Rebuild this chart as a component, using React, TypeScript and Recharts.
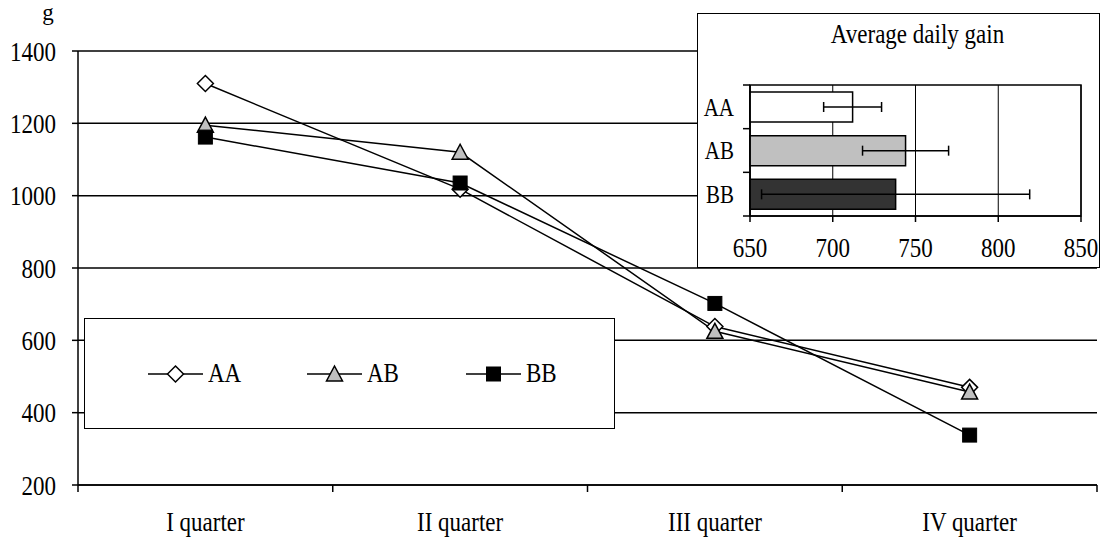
import React from 'react';
import {
  LineChart,
  Line,
  XAxis,
  YAxis,
  CartesianGrid,
  Legend,
  BarChart,
  Bar,
  Cell,
  ErrorBar,
  ReferenceArea,
} from 'recharts';

// ---------- data ----------
const quarters = ['I quarter', 'II quarter', 'III quarter', 'IV quarter'];
const aaValues = [1310, 1018, 638, 470];
const abValues = [1195, 1120, 625, 457];
const bbValues = [1162, 1035, 702, 338];
const yTicks = [200, 400, 600, 800, 1000, 1200, 1400];

const genotypes = ['AA', 'AB', 'BB'];
const gainValues = [712, 744, 738];
const gainErrors = [17.5, 26, 81];
const gainColors = ['#ffffff', '#c0c0c0', '#333333'];
const gainTicks = [650, 700, 750, 800, 850];

const lineData = quarters.map((q, i) => ({ q, AA: aaValues[i], AB: abValues[i], BB: bbValues[i] }));
const barData = genotypes.map((g, i) => ({ g, v: gainValues[i], e: gainErrors[i] }));

const FONT = '"Liberation Serif", "Times New Roman", serif';
const STRETCH = 1.2;

// ---------- markers ----------
const Diamond = ({ cx, cy }: { cx: number; cy: number }) => (
  <polygon
    points={`${cx},${cy - 8} ${cx + 8},${cy} ${cx},${cy + 8} ${cx - 8},${cy}`}
    fill="#ffffff"
    stroke="#000"
    strokeWidth={1.5}
  />
);
const Triangle = ({ cx, cy }: { cx: number; cy: number }) => (
  <polygon
    points={`${cx},${cy - 8} ${cx + 8},${cy + 7} ${cx - 8},${cy + 7}`}
    fill="#c0c0c0"
    stroke="#000"
    strokeWidth={1.5}
  />
);
const Square = ({ cx, cy }: { cx: number; cy: number }) => (
  <rect x={cx - 7} y={cy - 7} width={14} height={14} fill="#000" stroke="#000" strokeWidth={1} />
);

const SERIES = [
  { key: 'AA', Marker: Diamond },
  { key: 'AB', Marker: Triangle },
  { key: 'BB', Marker: Square },
];

// ---------- text helper ----------
const SText = ({
  x,
  y,
  anchor,
  dy,
  size,
  children,
}: {
  x: number;
  y: number;
  anchor: 'start' | 'middle' | 'end';
  dy: string;
  size: number;
  children: any;
}) => (
  <text
    transform={`translate(${x},${y}) scale(1,${STRETCH})`}
    x={0}
    y={0}
    dy={dy}
    textAnchor={anchor}
    fontSize={size}
    fontFamily={FONT}
    fill="#000"
  >
    {children}
  </text>
);

// ---------- ticks ----------
const QuarterTick = (props: any) => {
  const { x, y, payload, index } = props;
  const off = payload && typeof payload.offset === 'number' ? payload.offset : 0;
  const last = index === quarters.length - 1;
  return (
    <g>
      <line x1={x - off} y1={y} x2={x - off} y2={y + 7} stroke="#000" strokeWidth={1.5} />
      {last && <line x1={x + off} y1={y} x2={x + off} y2={y + 7} stroke="#000" strokeWidth={1.5} />}
      <SText x={x} y={y + 26} anchor="middle" dy="0.71em" size={23}>
        {payload.value}
      </SText>
    </g>
  );
};

const ValueTickLeft = (props: any) => {
  const { x, y, payload } = props;
  return (
    <SText x={x} y={y} anchor="end" dy="0.355em" size={23}>
      {payload.value}
    </SText>
  );
};

const ValueTickBottom = (props: any) => {
  const { x, y, payload } = props;
  return (
    <SText x={x} y={y} anchor="middle" dy="0.71em" size={23}>
      {payload.value}
    </SText>
  );
};

const GenoTick = (props: any) => {
  const { x, y, payload, index } = props;
  const off = payload && typeof payload.offset === 'number' ? payload.offset : 0;
  const last = index === genotypes.length - 1;
  return (
    <g>
      <line x1={x - 7} y1={y - off} x2={x} y2={y - off} stroke="#000" strokeWidth={1.5} />
      {last && <line x1={x - 7} y1={y + off} x2={x} y2={y + off} stroke="#000" strokeWidth={1.5} />}
      <SText x={x - 16} y={y} anchor="end" dy="0.355em" size={21}>
        {payload.value}
      </SText>
    </g>
  );
};

const stretchSpan: React.CSSProperties = {
  display: 'inline-block',
  transform: `scaleY(${STRETCH})`,
};

// ---------- legend ----------
const LegendContent = () => (
  <div
    style={{
      display: 'flex',
      alignItems: 'center',
      height: '100%',
      paddingLeft: 63,
      boxSizing: 'border-box',
      fontFamily: FONT,
      fontSize: 23,
      color: '#000',
    }}
  >
    {SERIES.map(({ key, Marker }) => (
      <div key={key} style={{ display: 'flex', alignItems: 'center', width: 159, flex: 'none' }}>
        <svg width={55} height={20} style={{ display: 'block' }}>
          <line x1={0} y1={10} x2={55} y2={10} stroke="#000" strokeWidth={1.5} />
          <Marker cx={27.5} cy={10} />
        </svg>
        <span style={{ ...stretchSpan, marginLeft: 5, lineHeight: '26px' }}>{key}</span>
      </div>
    ))}
  </div>
);

export default function App() {
  return (
    <div
      style={{
        position: 'absolute',
        left: 0,
        top: 0,
        width: 1102,
        height: 538,
        background: '#fff',
        fontFamily: FONT,
        overflow: 'hidden',
      }}
    >
      <LineChart width={1102} height={538} data={lineData} margin={{ top: 51, right: 5, bottom: 0, left: 0 }}>
        <CartesianGrid vertical={false} stroke="#000" strokeWidth={1.5} />
        <XAxis
          dataKey="q"
          scale="band"
          interval={0}
          tickSize={0}
          tickMargin={0}
          height={53}
          axisLine={{ stroke: '#000', strokeWidth: 1.5 }}
          tickLine={false}
          tick={<QuarterTick />}
        />
        <YAxis
          domain={[200, 1400]}
          ticks={yTicks}
          width={78}
          interval={0}
          tickSize={6}
          tickMargin={16}
          axisLine={{ stroke: '#000', strokeWidth: 1.5 }}
          tickLine={{ stroke: '#000', strokeWidth: 1.5 }}
          tick={<ValueTickLeft />}
        />
        <YAxis
          yAxisId="r"
          orientation="right"
          width={0}
          domain={[200, 1400]}
          ticks={yTicks}
          tick={false}
          tickLine={false}
          axisLine={{ stroke: '#000', strokeWidth: 1.5 }}
        />
        <Legend
          layout="vertical"
          align="center"
          verticalAlign="middle"
          content={<LegendContent />}
          wrapperStyle={{
            left: 84,
            top: 318,
            width: 531,
            height: 111,
            border: '1.5px solid #000',
            background: '#fff',
            boxSizing: 'border-box',
          }}
        />
        {SERIES.map(({ key, Marker }) => (
          <Line
            key={key}
            dataKey={key}
            stroke="#000"
            strokeWidth={1.5}
            isAnimationActive={false}
            legendType="none"
            dot={(p: any) => <Marker key={`${key}-${p.index}`} cx={p.cx} cy={p.cy} />}
            activeDot={false}
          />
        ))}
      </LineChart>

      {/* inset: average daily gain */}
      <div
        style={{
          position: 'absolute',
          left: 697,
          top: 13,
          width: 403,
          height: 255,
          boxSizing: 'border-box',
          border: '1.5px solid #000',
          background: '#fff',
        }}
      />
      <div
        style={{
          position: 'absolute',
          left: 750,
          top: 22,
          width: 335,
          textAlign: 'center',
          fontSize: 23,
          lineHeight: '26px',
          fontFamily: FONT,
          color: '#000',
        }}
      >
        <span style={stretchSpan}>Average daily gain</span>
      </div>
      <div style={{ position: 'absolute', left: 697, top: 13 }}>
        <BarChart
          width={403}
          height={255}
          layout="vertical"
          data={barData}
          margin={{ top: 72, right: 19, bottom: 0, left: 0 }}
          barSize={30}
        >
          <CartesianGrid horizontal={false} stroke="#000" strokeWidth={1} />
          <XAxis
            type="number"
            domain={[650, 850]}
            ticks={gainTicks}
            interval={0}
            height={52}
            tickSize={6}
            tickMargin={15}
            axisLine={{ stroke: '#000', strokeWidth: 1.5 }}
            tickLine={{ stroke: '#000', strokeWidth: 1.5 }}
            tick={<ValueTickBottom />}
          />
          <YAxis
            type="category"
            dataKey="g"
            width={53}
            interval={0}
            tickSize={0}
            tickMargin={0}
            tickLine={false}
            axisLine={{ stroke: '#000', strokeWidth: 1.5 }}
            tick={<GenoTick />}
          />
          <ReferenceArea x1={650} x2={850} fill="none" stroke="#000" strokeWidth={1.5} ifOverflow="visible" />
          <Bar dataKey="v" stroke="#000" strokeWidth={1.5} isAnimationActive={false}>
            {barData.map((d, i) => (
              <Cell key={d.g} fill={gainColors[i]} />
            ))}
            <ErrorBar dataKey="e" direction="x" width={5} stroke="#000" strokeWidth={1.5} isAnimationActive={false} />
          </Bar>
        </BarChart>
      </div>

      <div
        style={{
          position: 'absolute',
          left: 38,
          top: 0,
          width: 20,
          textAlign: 'center',
          fontSize: 23,
          lineHeight: '26px',
          fontFamily: FONT,
          color: '#000',
        }}
      >
        g
      </div>
    </div>
  );
}
